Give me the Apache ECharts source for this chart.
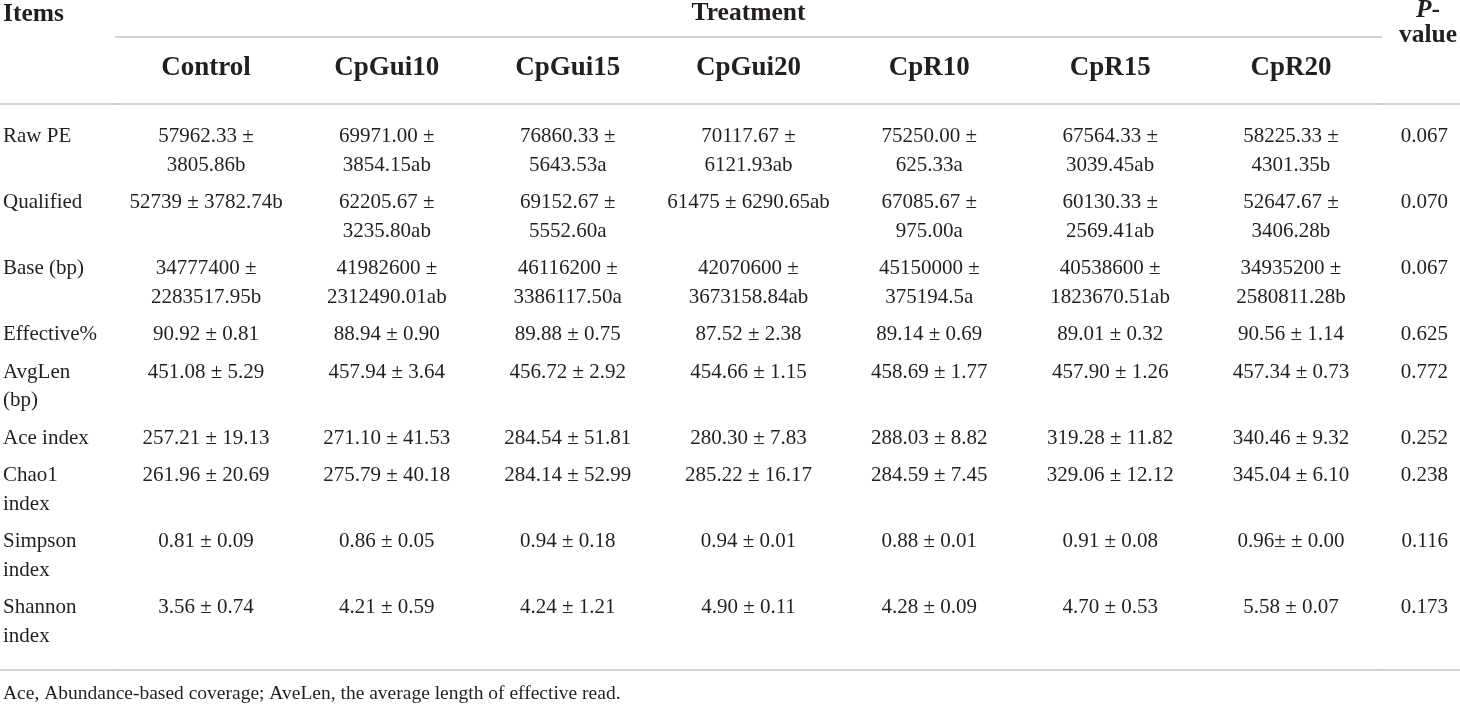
<!DOCTYPE html>
<html>
<head>
<meta charset="utf-8">
<script src="https://cdn.jsdelivr.net/npm/echarts@6/dist/echarts.min.js"></script>
<style>
html,body{margin:0;padding:0;background:#ffffff;}
#chart{width:1460px;height:704px;}
</style>
</head>
<body>
<div id="chart"></div>
<script>
// ---------- data ----------
const items = ['Raw PE', 'Qualified', 'Base (bp)', 'Effective%', 'AvgLen (bp)', 'Ace index', 'Chao1 index', 'Simpson index', 'Shannon index'];
const treatments = ['Control', 'CpGui10', 'CpGui15', 'CpGui20', 'CpR10', 'CpR15', 'CpR20'];
const control = ['57962.33 ± 3805.86b', '52739 ± 3782.74b', '34777400 ± 2283517.95b', '90.92 ± 0.81', '451.08 ± 5.29', '257.21 ± 19.13', '261.96 ± 20.69', '0.81 ± 0.09', '3.56 ± 0.74'];
const cpGui10 = ['69971.00 ± 3854.15ab', '62205.67 ± 3235.80ab', '41982600 ± 2312490.01ab', '88.94 ± 0.90', '457.94 ± 3.64', '271.10 ± 41.53', '275.79 ± 40.18', '0.86 ± 0.05', '4.21 ± 0.59'];
const cpGui15 = ['76860.33 ± 5643.53a', '69152.67 ± 5552.60a', '46116200 ± 3386117.50a', '89.88 ± 0.75', '456.72 ± 2.92', '284.54 ± 51.81', '284.14 ± 52.99', '0.94 ± 0.18', '4.24 ± 1.21'];
const cpGui20 = ['70117.67 ± 6121.93ab', '61475 ± 6290.65ab', '42070600 ± 3673158.84ab', '87.52 ± 2.38', '454.66 ± 1.15', '280.30 ± 7.83', '285.22 ± 16.17', '0.94 ± 0.01', '4.90 ± 0.11'];
const cpR10 = ['75250.00 ± 625.33a', '67085.67 ± 975.00a', '45150000 ± 375194.5a', '89.14 ± 0.69', '458.69 ± 1.77', '288.03 ± 8.82', '284.59 ± 7.45', '0.88 ± 0.01', '4.28 ± 0.09'];
const cpR15 = ['67564.33 ± 3039.45ab', '60130.33 ± 2569.41ab', '40538600 ± 1823670.51ab', '89.01 ± 0.32', '457.90 ± 1.26', '319.28 ± 11.82', '329.06 ± 12.12', '0.91 ± 0.08', '4.70 ± 0.53'];
const cpR20 = ['58225.33 ± 4301.35b', '52647.67 ± 3406.28b', '34935200 ± 2580811.28b', '90.56 ± 1.14', '457.34 ± 0.73', '340.46 ± 9.32', '345.04 ± 6.10', '0.96± ± 0.00', '5.58 ± 0.07'];
const pValues = ['0.067', '0.070', '0.067', '0.625', '0.772', '0.252', '0.238', '0.116', '0.173'];
const headerItems = 'Items';
const headerTreatment = 'Treatment';
const footnote = 'Ace, Abundance-based coverage; AveLen, the average length of effective read.';

// ---------- layout / style ----------
const FONT = '"Liberation Serif", "Times New Roman", serif';
const TEXT = '#231f20';
const RULE = '#c4c4c4';
const BODY = 21, HEAD = 27, TOPHEAD = 25.5, FOOT = 19.5;
const LINE = 28.5, PAD = 9, TOP_PAD = 18.5;
const CELL_W = 165, ITEM_W = 100;
const GRID_TOP = 104, GRID_BOTTOM = 34, W = 1460, H = 704;
const GRID_H = H - GRID_TOP - GRID_BOTTOM;
const COL_LEFT = 115.6, COL_RIGHT = 1381.4;

const columns = [control, cpGui10, cpGui15, cpGui20, cpR10, cpR15, cpR20];

const ctx = document.createElement('canvas').getContext('2d');
ctx.font = BODY + 'px ' + FONT;
function wrap(t, w) {
  const words = t.split(' ');
  const lines = [];
  let cur = '';
  for (const wd of words) {
    const test = cur ? cur + ' ' + wd : wd;
    if (cur && ctx.measureText(test).width > w) { lines.push(cur); cur = wd; }
    else cur = test;
  }
  lines.push(cur);
  return lines;
}

const rowLines = items.map((it, i) => Math.max(
  wrap(it, ITEM_W).length,
  ...columns.map(c => wrap(c[i], CELL_W).length)
));
const rowTop = [];
let acc = TOP_PAD;
rowLines.forEach(n => { rowTop.push(acc); acc += n * LINE + PAD; });

const cellData = [];
columns.forEach((col, j) => col.forEach((txt, i) => {
  cellData.push({ value: [treatments[j], rowTop[i]], text: wrap(txt, CELL_W).join('\n') });
}));
const itemData = items.map((t, i) => ({ value: [0, rowTop[i]], text: wrap(t, ITEM_W).join('\n') }));
const pData = pValues.map((t, i) => ({ value: [1, rowTop[i]], text: t }));

const ruleLine = { show: true, lineStyle: { color: RULE, width: 1.5 } };
const hidden = { axisTick: { show: false }, axisLabel: { show: false }, splitLine: { show: false } };
const bodyLabel = {
  show: true, fontFamily: FONT, fontSize: BODY, color: TEXT, opacity: 1, lineHeight: LINE,
  verticalAlign: 'top', formatter: p => p.data.text
};
const gridBase = { top: GRID_TOP, bottom: GRID_BOTTOM, containLabel: false, outerBoundsMode: 'none' };
const cellSeries = (xi, yi, data, labelExtra) => ({
  type: 'scatter', xAxisIndex: xi, yAxisIndex: yi, symbolSize: 0, silent: true, data: data,
  itemStyle: { color: TEXT, opacity: 1 },
  emphasis: { disabled: true },
  label: Object.assign({}, bodyLabel, labelExtra)
});

const chart = echarts.init(document.getElementById('chart'), null, { renderer: 'canvas' });
chart.setOption({
  backgroundColor: '#ffffff',
  animation: false,
  title: [
    { text: headerItems, left: 3, top: 0.5, padding: 0, textAlign: 'left', textVerticalAlign: 'top',
      textStyle: { fontFamily: FONT, fontSize: TOPHEAD, fontWeight: 'bold', color: TEXT, lineHeight: 27 } },
    { text: '{i|P}{b|-}\n{b|value}', left: 1428, top: -2.5, padding: 0, textAlign: 'center', textVerticalAlign: 'top',
      textStyle: { fontFamily: FONT, fontSize: TOPHEAD, fontWeight: 'bold', color: TEXT, lineHeight: 25,
        rich: {
          i: { fontFamily: FONT, fontSize: TOPHEAD, fontWeight: 'bold', fontStyle: 'italic', color: TEXT, lineHeight: 25 },
          b: { fontFamily: FONT, fontSize: TOPHEAD, fontWeight: 'bold', color: TEXT, lineHeight: 25 }
        } } },
    { text: footnote, left: 3, top: 679.4, padding: 0, textAlign: 'left', textVerticalAlign: 'top',
      textStyle: { fontFamily: FONT, fontSize: FOOT, fontWeight: 'normal', color: TEXT, lineHeight: 28 } }
  ],
  grid: [
    Object.assign({ left: 0, width: COL_LEFT }, gridBase),
    Object.assign({ left: COL_LEFT, right: W - COL_RIGHT }, gridBase),
    Object.assign({ left: COL_RIGHT, right: 0 }, gridBase)
  ],
  xAxis: [
    Object.assign({ gridIndex: 0, type: 'value', min: 0, max: 1, position: 'top', axisLine: ruleLine }, hidden),
    Object.assign({ gridIndex: 0, type: 'value', min: 0, max: 1, position: 'bottom', axisLine: ruleLine }, hidden),
    { gridIndex: 1, type: 'category', data: treatments, position: 'top', axisLine: ruleLine,
      axisTick: { show: false }, splitLine: { show: false },
      axisLabel: { show: true, interval: 0, margin: 21, fontFamily: FONT, fontSize: HEAD, fontWeight: 'bold', color: TEXT, lineHeight: 30 } },
    Object.assign({ gridIndex: 1, type: 'category', data: treatments, position: 'top', offset: GRID_TOP - 37,
      axisLine: ruleLine, name: headerTreatment, nameLocation: 'middle', nameGap: 8.5,
      nameTextStyle: { fontFamily: FONT, fontSize: TOPHEAD, fontWeight: 'bold', color: TEXT, lineHeight: 30, verticalAlign: 'bottom' } }, hidden),
    Object.assign({ gridIndex: 1, type: 'category', data: treatments, position: 'bottom', axisLine: ruleLine }, hidden),
    Object.assign({ gridIndex: 2, type: 'value', min: 0, max: 1, position: 'top', axisLine: ruleLine }, hidden),
    Object.assign({ gridIndex: 2, type: 'value', min: 0, max: 1, position: 'bottom', axisLine: ruleLine }, hidden)
  ],
  yAxis: [0, 1, 2].map(g => ({ gridIndex: g, type: 'value', min: 0, max: GRID_H, inverse: true, show: false })),
  series: [
    cellSeries(0, 0, itemData, { position: [3, 0], align: 'left' }),
    cellSeries(2, 1, cellData, { position: 'inside', align: 'center' }),
    cellSeries(5, 2, pData, { position: [-12, 0], align: 'right' })
  ]
});
</script>
</body>
</html>
